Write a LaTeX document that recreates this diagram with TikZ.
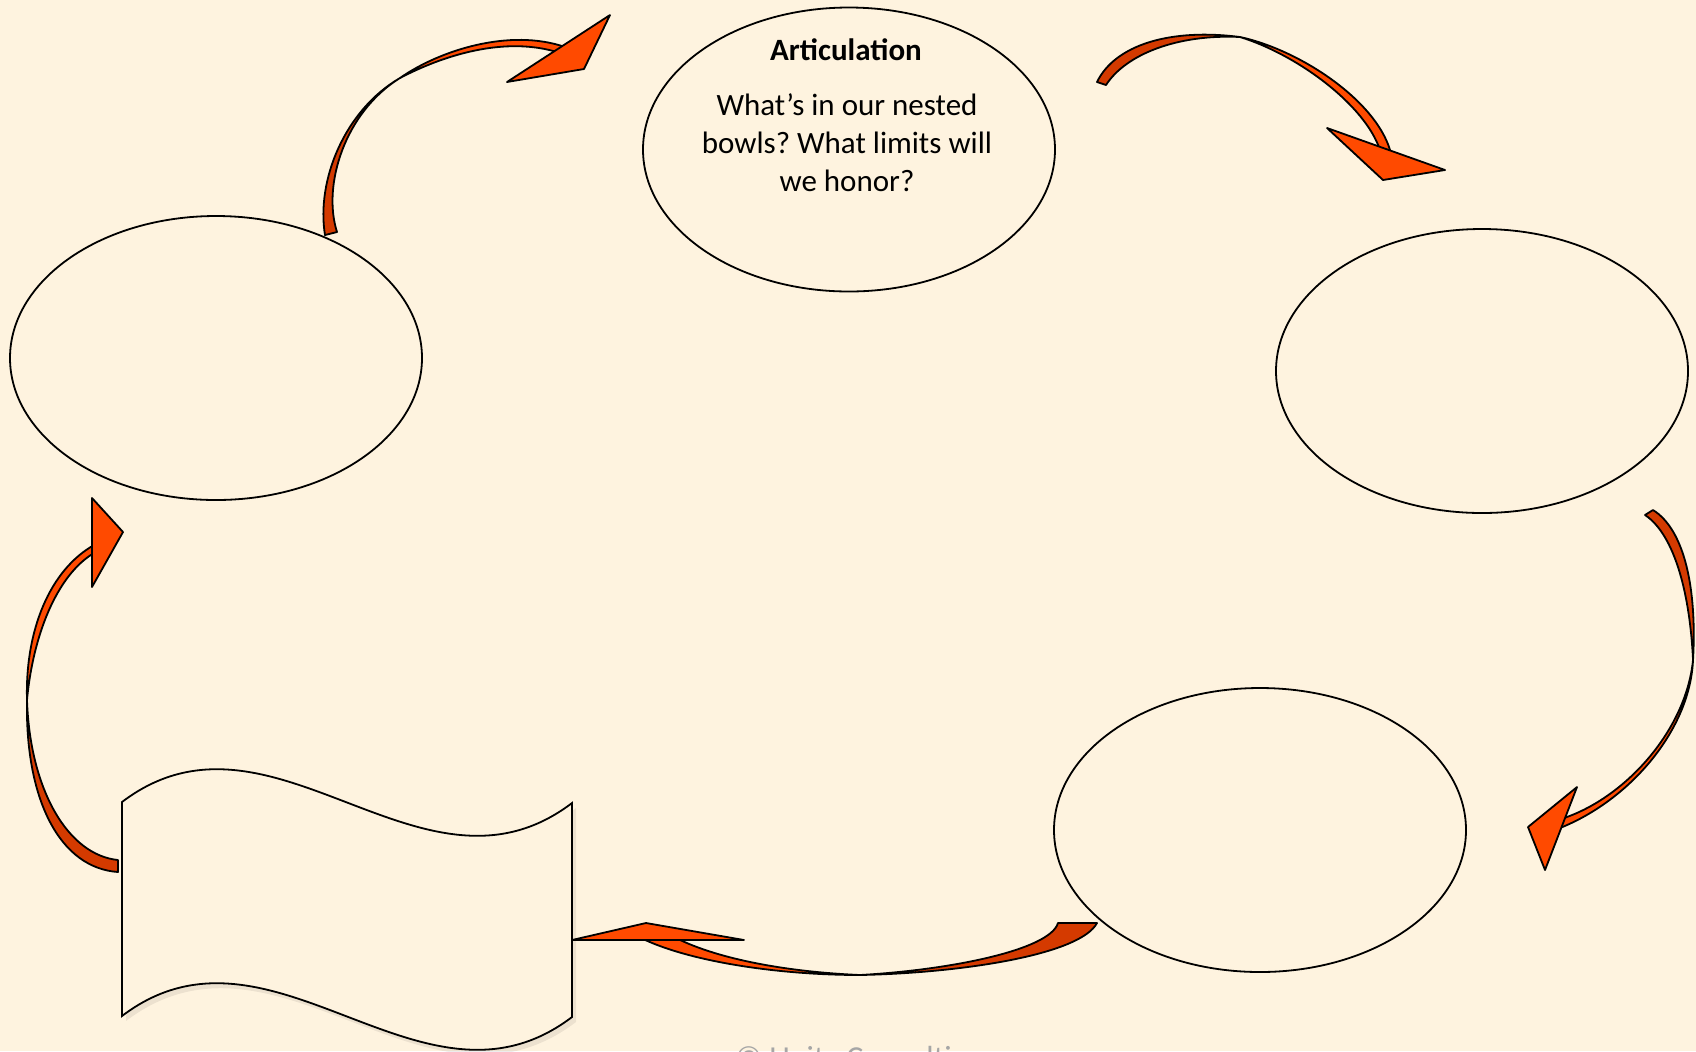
\documentclass[tikz,border=0pt]{standalone}
\usepackage{fontspec}
\setmainfont{Carlito}
\usetikzlibrary{shapes.geometric}
\definecolor{bg}{HTML}{FEF3DF}
\definecolor{arrbright}{HTML}{FF4A00}
\definecolor{arrdark}{HTML}{D43A00}
\definecolor{copygray}{HTML}{A6A6A6}
\frenchspacing
\begin{document}
\begin{tikzpicture}[x=0.5pt,y=-0.5pt,
  bowl/.style={ellipse,draw=black,line width=0.9pt,minimum width=206pt,minimum height=142pt,inner sep=0pt},
  arrowdark/.style={fill=arrdark,draw=black,line width=0.9pt,line join=round},
  arrowbright/.style={fill=arrbright,draw=black,line width=0.9pt,line join=round},
  txt/.style={font=\fontsize{15.5pt}{19pt}\selectfont,anchor=base,inner sep=0pt}]
\fill[bg] (0,0) rectangle (1696,1051);
\useasboundingbox (0,0) rectangle (1696,1051);
\clip (0,0) rectangle (1696,1051);

% ellipses
\node[bowl] (artic) at (849,149.5) {};
\node[bowl] (leftbowl) at (216,358) {};
\node[bowl] (rightbowl) at (1482,371) {};
\node[bowl] (lowerbowl) at (1260,830) {};

% wave shape with soft shadow
\fill[black,opacity=0.07] ([xshift=2pt,yshift=-2.5pt]122,802) .. controls ([xshift=2pt,yshift=-2.5pt]272,688) and ([xshift=2pt,yshift=-2.5pt]422,917) .. ([xshift=2pt,yshift=-2.5pt]572,803) -- ([xshift=2pt,yshift=-2.5pt]572,1017) .. controls ([xshift=2pt,yshift=-2.5pt]422,1131) and ([xshift=2pt,yshift=-2.5pt]272,902) .. ([xshift=2pt,yshift=-2.5pt]122,1016) -- cycle;
\draw[fill=bg,line width=0.9pt] (122,802) .. controls (272,688) and (422,917) .. (572,803) -- (572,1017) .. controls (422,1131) and (272,902) .. (122,1016) -- cycle;

% arrow 1 : left bowl -> articulation
\filldraw[arrowdark] (325,235) .. controls (316,180) and (345,110) .. (400,78) .. controls (345,112) and (322,185) .. (337,232) -- cycle;
\filldraw[arrowbright] (400,78) .. controls (440,50) and (510,28) .. (565,47) -- (560,53) .. controls (505,35) and (442,56) .. (400,78) -- cycle;
\filldraw[arrowbright] (610,15) -- (584,69) -- (507,82) -- cycle;

% arrow 2 : articulation -> right bowl
\filldraw[arrowdark] (1097,82) .. controls (1115,45) and (1170,28) .. (1240,37) .. controls (1178,34) and (1126,54) .. (1106,85) -- cycle;
\filldraw[arrowbright] (1240,37) .. controls (1300,50) and (1375,100) .. (1390,150) -- (1380,150) .. controls (1365,105) and (1298,55) .. (1240,37) -- cycle;
\filldraw[arrowbright] (1327,128) -- (1383,180) -- (1445,170) -- cycle;

% arrow 3 : right bowl -> lower bowl
\filldraw[arrowdark] (1653,510) .. controls (1685,530) and (1697,590) .. (1693,660) .. controls (1690,595) and (1675,535) .. (1645,515) -- cycle;
\filldraw[arrowbright] (1693,660) .. controls (1690,730) and (1630,800) .. (1560,828) -- (1564,818) .. controls (1626,797) and (1686,730) .. (1693,660) -- cycle;
\filldraw[arrowbright] (1577,787) -- (1528,827) -- (1545,870) -- cycle;

% arrow 4 : lower bowl -> wave
\filldraw[arrowdark] (1097,923) .. controls (1080,955) and (960,973) .. (860,975) .. controls (950,970) and (1050,950) .. (1058,923) -- cycle;
\filldraw[arrowbright] (860,975) .. controls (780,975) and (690,962) .. (641,938) -- (676,938) .. controls (720,960) and (790,972) .. (860,975) -- cycle;
\filldraw[arrowbright] (572,940) -- (646,923) -- (744,940) -- cycle;

% arrow 5 : wave -> left bowl
\filldraw[arrowdark] (118,872) .. controls (60,868) and (25,800) .. (27,700) .. controls (30,790) and (68,855) .. (118,860) -- cycle;
\filldraw[arrowbright] (27,700) .. controls (25,630) and (50,570) .. (94,545) -- (94,553) .. controls (57,575) and (33,635) .. (27,700) -- cycle;
\filldraw[arrowbright] (92,498) -- (123,532) -- (92,587) -- cycle;

% texts
\node[txt,font=\bfseries\fontsize{15.5pt}{19pt}\selectfont] (title) at (846,60) {Articulation};
\node[txt] (q1) at (847,115) {What’s in our nested};
\node[txt] (q2) at (847,153) {bowls? What limits will};
\node[txt] (q3) at (847,191) {we honor?};

\node[anchor=base west,inner sep=0pt,text=copygray,font=\fontsize{16pt}{19pt}\selectfont] (copyright) at (735,1068) {© Unity Consulting};
\end{tikzpicture}
\end{document}
